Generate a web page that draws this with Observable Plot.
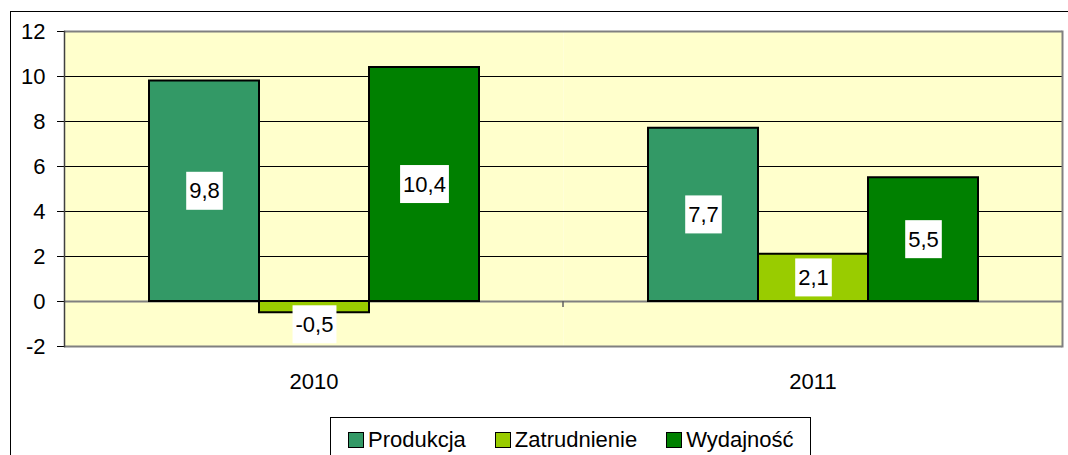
<!DOCTYPE html>
<html>
<head>
<meta charset="utf-8">
<script src="https://cdn.jsdelivr.net/npm/d3@7"></script>
<script src="https://cdn.jsdelivr.net/npm/@observablehq/plot@0.6"></script>
<style>
  html, body { margin: 0; padding: 0; background: #fff; }
  #wrap { position: relative; width: 1068px; height: 455px; overflow: hidden; font-family: 'Liberation Sans', Arial, sans-serif; }
  #outer { position: absolute; left: 10px; top: 11px; width: 1100px; height: 500px; border-left: 1px solid #000; border-top: 1px solid #000; box-sizing: border-box; }
  #chart { position: absolute; left: 0; top: 0; }
  #legend { position: absolute; left: 330px; top: 417px; width: 481px; height: 60px; border: 1px solid #000; background: #fff; box-sizing: border-box; display: flex; align-items: flex-start; padding: 9px 0 0 17px; font-size: 22px; }
  .item { display: flex; align-items: center; margin-right: 29px; white-space: nowrap; }
  .sw { width: 14px; height: 14px; border: 1px solid #000; margin-right: 4px; }
</style>
</head>
<body>
<div id="wrap">
  <div id="outer"></div>
  <div id="chart"></div>
  <div id="legend"></div>
</div>
<script>
const years = ["2010", "2011"];
const series = ["Produkcja", "Zatrudnienie", "Wydajność"];
const values2010 = [9.8, -0.5, 10.4];
const values2011 = [7.7, 2.1, 5.5];
const colors = ["#339966", "#99CC00", "#008000"];
const yTicks = [-2, 0, 2, 4, 6, 8, 10, 12];

const valuesByYear = [values2010, values2011];
const data = years.flatMap((y, i) => series.map((s, j) => ({year: y, series: s, value: valuesByYear[i][j]})));
const fmt = d => d.value.toFixed(1).replace(".", ",");

const plot = Plot.plot({
  width: 1068,
  height: 405,
  marginLeft: 63,
  marginRight: 6,
  marginTop: 31,
  marginBottom: 59,
  style: {fontFamily: "'Liberation Sans', Arial, sans-serif", fontSize: "22px", color: "#000", background: "transparent", overflow: "visible"},
  fx: {domain: years, padding: 0, label: null, tickSize: 0, tickPadding: 27},
  x: {domain: series, paddingInner: 0, paddingOuter: 0.75, axis: null},
  y: {domain: [yTicks[0], yTicks[yTicks.length - 1]], ticks: yTicks, tickSize: 7, tickPadding: 12, label: null, tickFormat: d => String(d)},
  color: {domain: series, range: colors},
  marks: [
    Plot.frame({fill: "#FFFFCC", stroke: null}),
    Plot.ruleY(yTicks.filter(t => t !== 0 && t !== yTicks[0] && t !== yTicks[yTicks.length - 1]), {stroke: "#000", strokeWidth: 1}),
    Plot.ruleY([0], {stroke: "#808080", strokeWidth: 2}),
    Plot.barY(data, {fx: "year", x: "series", y: "value", fill: "series", stroke: "#000", strokeWidth: 2, inset: 0}),
    Plot.ruleY([yTicks[0], yTicks[yTicks.length - 1]], {stroke: "#808080", strokeWidth: 2}),
    Plot.frame({anchor: "left", facetAnchor: "left", stroke: "#404040", strokeWidth: 1.5}),
    Plot.frame({anchor: "right", facetAnchor: "right", stroke: "#808080", strokeWidth: 2}),
    Plot.text(data.filter(d => Math.abs(d.value) >= 1), {fx: "year", x: "series", y: d => d.value / 2, text: fmt, fill: "#000", className: "vlabel"}),
    Plot.text(data.filter(d => Math.abs(d.value) < 1), {fx: "year", x: "series", y: "value", dy: 12, text: fmt, fill: "#000", className: "vlabel"})
  ]
});
document.getElementById("chart").appendChild(plot);

// white boxes behind value labels
d3.select(plot).selectAll("g.vlabel text").each(function() {
  const b = this.getBBox();
  const padX = 3, padY = 6.5;
  d3.select(this.parentNode).insert("rect", () => this)
    .attr("x", b.x - padX).attr("y", b.y - padY)
    .attr("width", b.width + 2 * padX).attr("height", b.height + 2 * padY)
    .attr("fill", "#fff").attr("transform", this.getAttribute("transform"));
});

// category divider tick on the zero line (between the year groups)
const fxs = plot.scale("fx"), ys = plot.scale("y");
years.slice(1).forEach(yr => {
  const xb = fxs.apply(yr), y0 = ys.apply(0);
  d3.select(plot).append("line")
    .attr("x1", xb).attr("x2", xb).attr("y1", y0).attr("y2", y0 + 6)
    .attr("stroke", "#606060").attr("stroke-width", 1.5);
});

// legend
const legend = d3.select("#legend");
series.forEach((s, i) => {
  const it = legend.append("div").attr("class", "item");
  it.append("div").attr("class", "sw").style("background", colors[i]);
  it.append("span").text(s);
});
</script>
</body>
</html>
